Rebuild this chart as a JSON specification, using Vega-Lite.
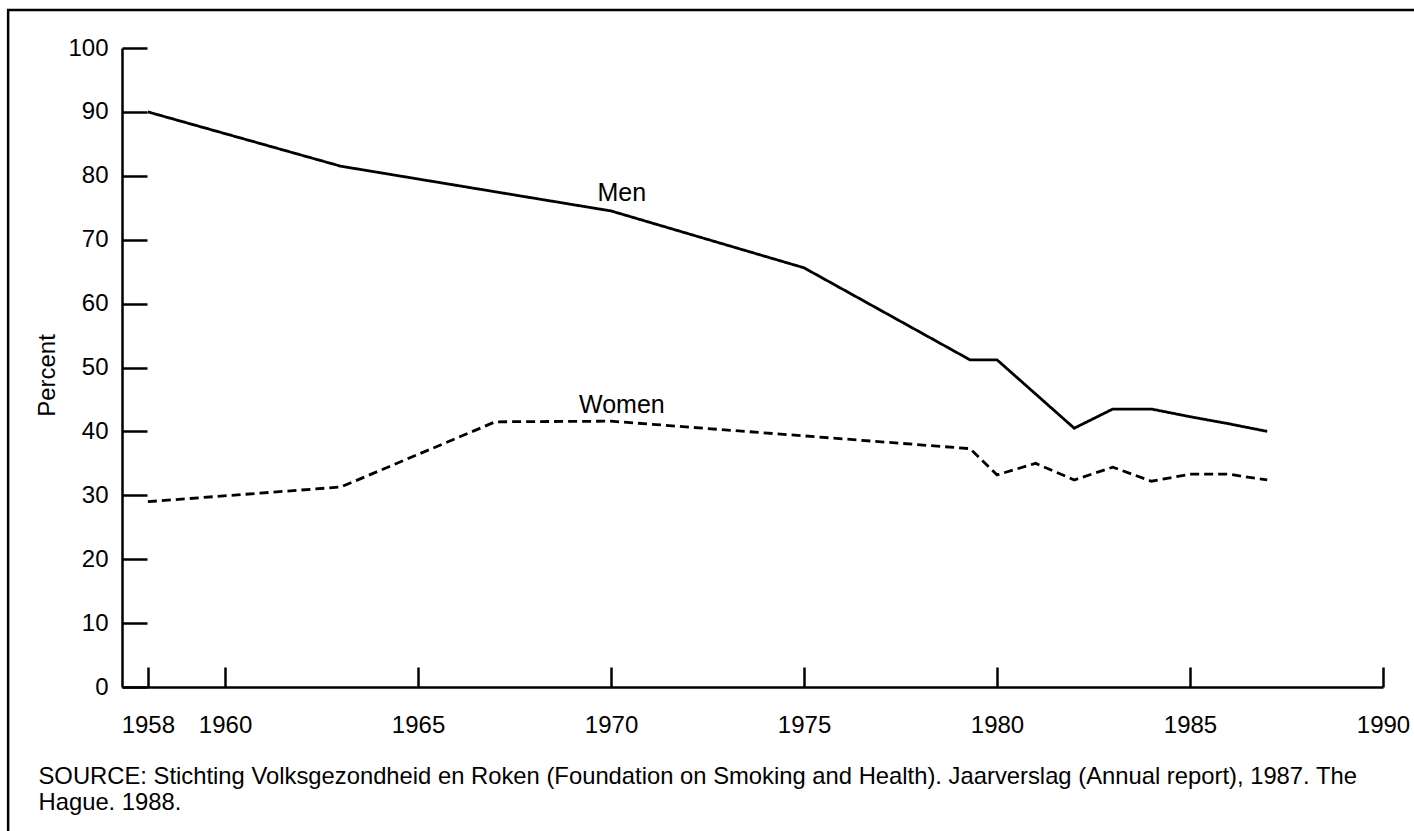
{
  "$schema": "https://vega.github.io/schema/vega-lite/v6.json",
  "width": 1261,
  "height": 639,
  "autosize": {"type": "none"},
  "padding": {"left": 122, "top": 48, "right": 31, "bottom": 144},
  "background": "white",
  "config": {
    "view": {"stroke": null},
    "font": "Liberation Sans",
    "axis": {
      "domainColor": "black",
      "domainWidth": 2.5,
      "tickColor": "black",
      "tickWidth": 2.5,
      "labelColor": "black",
      "titleColor": "black",
      "labelFont": "Liberation Sans",
      "titleFont": "Liberation Sans",
      "labelFontSize": 24,
      "titleFontSize": 24,
      "titleFontWeight": "normal",
      "grid": false
    }
  },
  "datasets": {
    "smoking": [
      {"year": 1958, "pct": 90, "sex": "Men"},
      {"year": 1963, "pct": 81.5, "sex": "Men"},
      {"year": 1970, "pct": 74.5, "sex": "Men"},
      {"year": 1975, "pct": 65.6, "sex": "Men"},
      {"year": 1979.3, "pct": 51.2, "sex": "Men"},
      {"year": 1980, "pct": 51.2, "sex": "Men"},
      {"year": 1982, "pct": 40.5, "sex": "Men"},
      {"year": 1983, "pct": 43.5, "sex": "Men"},
      {"year": 1984, "pct": 43.5, "sex": "Men"},
      {"year": 1985, "pct": 42.3, "sex": "Men"},
      {"year": 1986, "pct": 41.2, "sex": "Men"},
      {"year": 1987, "pct": 40, "sex": "Men"},
      {"year": 1958, "pct": 29, "sex": "Women"},
      {"year": 1963, "pct": 31.3, "sex": "Women"},
      {"year": 1967, "pct": 41.5, "sex": "Women"},
      {"year": 1970, "pct": 41.6, "sex": "Women"},
      {"year": 1975, "pct": 39.3, "sex": "Women"},
      {"year": 1979.3, "pct": 37.3, "sex": "Women"},
      {"year": 1980, "pct": 33.2, "sex": "Women"},
      {"year": 1981, "pct": 35, "sex": "Women"},
      {"year": 1982, "pct": 32.4, "sex": "Women"},
      {"year": 1983, "pct": 34.4, "sex": "Women"},
      {"year": 1984, "pct": 32.2, "sex": "Women"},
      {"year": 1985, "pct": 33.3, "sex": "Women"},
      {"year": 1986, "pct": 33.3, "sex": "Women"},
      {"year": 1987, "pct": 32.4, "sex": "Women"}
    ],
    "labels": [
      {"year": 1970.28, "pct": 76.1, "text": "Men"},
      {"year": 1970.28, "pct": 42.9, "text": "Women"}
    ]
  },
  "layer": [
    {
      "data": {"values": [{}]},
      "mark": {"type": "rect", "fill": null, "stroke": "black", "strokeWidth": 2.5, "clip": false},
      "encoding": {
        "x": {"datum": 1954.38, "type": "quantitative"},
        "x2": {"datum": 1993},
        "y": {"datum": 105.95, "type": "quantitative"},
        "y2": {"datum": -40}
      }
    },
    {
      "data": {"name": "smoking"},
      "mark": {"type": "line", "strokeWidth": 2.8, "color": "black"},
      "encoding": {
        "x": {
          "field": "year",
          "type": "quantitative",
          "scale": {"domain": [1957.33, 1990], "nice": false, "zero": false},
          "axis": {
            "values": [1958, 1960, 1965, 1970, 1975, 1980, 1985, 1990],
            "format": "d",
            "tickSize": -20,
            "labelPadding": 46,
            "labelBaseline": "top",
            "labelFlush": false,
            "labelOverlap": false,
            "title": ["SOURCE: Stichting Volksgezondheid en Roken (Foundation on Smoking and Health). Jaarverslag (Annual report), 1987. The", "Hague. 1988."],
            "titleFontSize": 23.8,
            "titleAnchor": "start",
            "titleAlign": "left",
            "titleBaseline": "alphabetic",
            "titleX": -84,
            "titleY": 96,
            "titleLineHeight": 26
          }
        },
        "y": {
          "field": "pct",
          "type": "quantitative",
          "scale": {"domain": [0, 100], "nice": false},
          "axis": {
            "values": [0, 10, 20, 30, 40, 50, 60, 70, 80, 90, 100],
            "tickSize": -25,
            "labelPadding": 39,
            "labelFlush": false,
            "title": "Percent",
            "titleAngle": 270,
            "titleAlign": "center",
            "titleBaseline": "alphabetic",
            "titleX": -68,
            "titleY": 327
          }
        },
        "detail": {"field": "sex"},
        "strokeDash": {
          "field": "sex",
          "type": "nominal",
          "scale": {"domain": ["Men", "Women"], "range": [[1, 0], [9, 5]]},
          "legend": null
        }
      }
    },
    {
      "data": {"name": "labels"},
      "mark": {"type": "text", "fontSize": 25, "color": "black", "align": "center", "baseline": "alphabetic"},
      "encoding": {
        "x": {"field": "year", "type": "quantitative"},
        "y": {"field": "pct", "type": "quantitative"},
        "text": {"field": "text"}
      }
    }
  ]
}
